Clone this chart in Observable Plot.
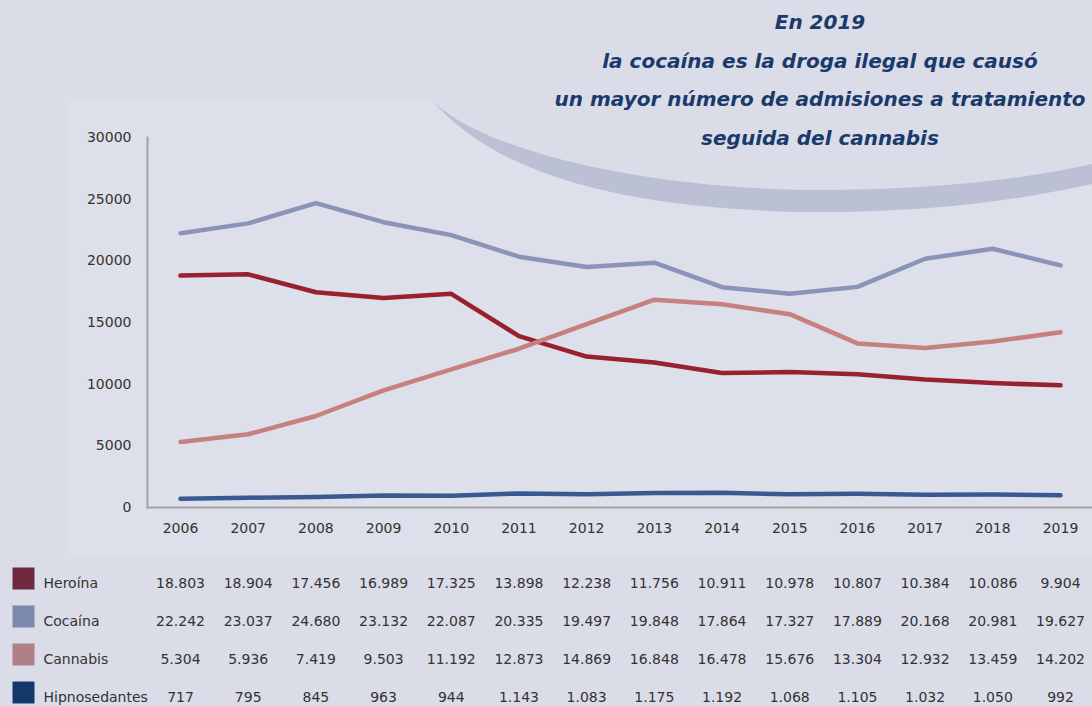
<!DOCTYPE html>
<html>
<head>
<meta charset="utf-8">
<script src="https://cdn.jsdelivr.net/npm/d3@7"></script>
<script src="https://cdn.jsdelivr.net/npm/@observablehq/plot@0.6"></script>
<style>
html,body{margin:0;padding:0;background:#dadce8;}
#wrap{position:relative;width:1092px;height:706px;overflow:hidden;font-family:"DejaVu Sans",sans-serif;}
#deco{position:absolute;left:0;top:0;}
#title{position:absolute;left:520px;width:600px;top:3px;text-align:center;color:#1b3a6c;font-weight:bold;font-style:italic;font-size:20px;line-height:38.5px;white-space:nowrap;}
#chart{position:absolute;left:0;top:0;}
#table{position:absolute;left:0;top:557px;}
</style>
</head>
<body>
<div id="wrap">
  <svg id="deco" width="1092" height="706">
    <path d="M68,100 L432,100 C480,150 640,188 810,190 C930,190 1020,180 1092,164 L1092,556 L68,556 Z" fill="#dddfea"></path>
    <path d="M432,100 C480,150 640,188 810,190 C930,190 1020,180 1092,164 L1092,184 C1010,202 920,213 810,212 C640,210 500,180 432,100 Z" fill="#bbc0d5"></path>
  </svg>
  <div id="chart"></div>
  <div id="title">En 2019<br>la cocaína es la droga ilegal que causó<br>un mayor número de admisiones a tratamiento<br>seguida del cannabis</div>
  <div id="table"></div>
</div>
<script>
const years = [2006, 2007, 2008, 2009, 2010, 2011, 2012, 2013, 2014, 2015, 2016, 2017, 2018, 2019];
const seriesNames = ["Heroína", "Cocaína", "Cannabis", "Hipnosedantes"];
const heroina = [18803, 18904, 17456, 16989, 17325, 13898, 12238, 11756, 10911, 10978, 10807, 10384, 10086, 9904];
const cocaina = [22242, 23037, 24680, 23132, 22087, 20335, 19497, 19848, 17864, 17327, 17889, 20168, 20981, 19627];
const cannabis = [5304, 5936, 7419, 9503, 11192, 12873, 14869, 16848, 16478, 15676, 13304, 12932, 13459, 14202];
const hipnosedantes = [717, 795, 845, 963, 944, 1143, 1083, 1175, 1192, 1068, 1105, 1032, 1050, 992];
const yTicks = [0, 5000, 10000, 15000, 20000, 25000, 30000];
const lineColors = ["#98202f", "#8a93b8", "#c6807f", "#385a90"];
const swatchColors = ["#6e2a3c", "#7d88ad", "#b08084", "#14386b"];

const seriesValues = [heroina, cocaina, cannabis, hipnosedantes];
const rows = seriesNames.flatMap((name, s) =>
  years.map((year, i) => ({serie: name, year, value: seriesValues[s][i]})));
const legendRows = seriesNames.map((name, i) => ({name, fill: swatchColors[i]}));

const esFormat = d3.formatLocale({decimal: ",", thousands: ".", grouping: [3], currency: ["", "€"]}).format(",d");

const xScale = {domain: [2006, 2019], insetLeft: 33, insetRight: 32};

const chart = Plot.plot({
  width: 1092,
  height: 557,
  marginLeft: 147,
  marginRight: 0,
  marginTop: 137,
  marginBottom: 50,
  style: {fontFamily: "DejaVu Sans", fontSize: "14px", color: "#333333", background: "transparent", overflow: "visible"},
  x: {...xScale, label: null},
  y: {domain: [0, 30000], label: null},
  color: {domain: seriesNames, range: lineColors},
  marks: [
    Plot.axisY({ticks: yTicks, tickSize: 0, tickPadding: 16, tickFormat: d3.format("d"), fontSize: 14}),
    Plot.axisX({ticks: years, tickSize: 0, tickPadding: 16, tickFormat: d => String(d), fontSize: 14}),
    Plot.frame({anchor: "left", stroke: "#a3a3a3", strokeWidth: 2}),
    Plot.frame({anchor: "bottom", stroke: "#a3a3a3", strokeWidth: 2}),
    Plot.line(rows, {x: "year", y: "value", z: "serie", stroke: "serie", strokeWidth: 4.5})
  ]
});
document.getElementById("chart").appendChild(chart);

const table = Plot.plot({
  width: 1092,
  height: 149,
  marginLeft: 147,
  marginRight: 0,
  marginTop: 0,
  marginBottom: 0,
  style: {fontFamily: "DejaVu Sans", fontSize: "14px", color: "#333333", background: "transparent", overflow: "visible"},
  x: {...xScale, axis: null},
  y: {type: "point", domain: seriesNames, range: [25, 140], padding: 0, axis: null},
  color: {type: "identity"},
  marks: [
    Plot.dot(legendRows, {y: "name", frameAnchor: "left", dx: -124, dy: -5, symbol: "square", r: 12.4, fill: "fill", stroke: null}),
    Plot.text(legendRows, {y: "name", text: "name", frameAnchor: "left", textAnchor: "start", dx: -104, fill: "#333333", fontSize: 14}),
    Plot.text(rows, {x: "year", y: "serie", text: d => esFormat(d.value), fill: "#333333", fontSize: 14})
  ]
});
document.getElementById("table").appendChild(table);
</script>
</body>
</html>
